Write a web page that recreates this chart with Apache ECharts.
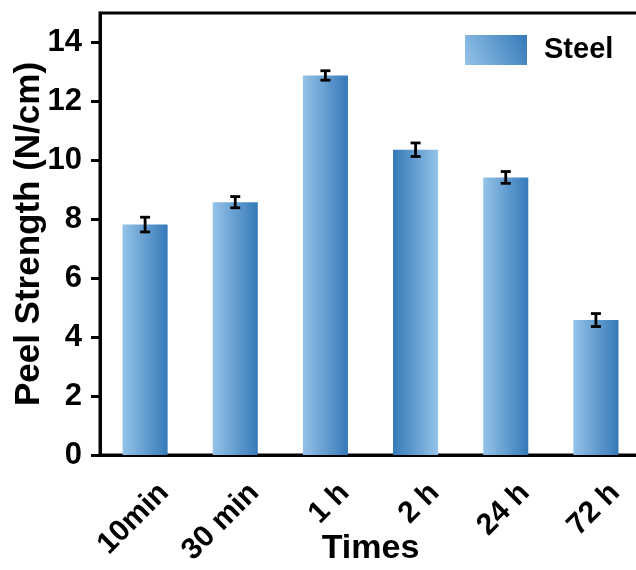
<!DOCTYPE html>
<html>
<head>
<meta charset="utf-8">
<script src="https://cdn.jsdelivr.net/npm/echarts@6/dist/echarts.min.js"></script>
<style>
  html, body { margin: 0; padding: 0; background: #fff; }
  #chart { width: 636px; height: 570px; }
</style>
</head>
<body>
<div id="chart"></div>
<script>
// 数据
const times = ['10min', '30 min', '1 h', '2 h', '24 h', '72 h'];
const peel = [7.82, 8.58, 12.88, 10.36, 9.42, 4.58];
const peelErr = [0.25, 0.19, 0.16, 0.23, 0.2, 0.22];
const yTicks = [0, 2, 4, 6, 8, 10, 12, 14];

const LIGHT = '#95c3e8', DARK = '#3579b9';
const FONT = 'Liberation Sans';

function grad(flip) {
  // 横向渐变：左浅 → 右深（flip 时反向）
  return new echarts.graphic.LinearGradient(flip ? 1 : 0, 0, flip ? 0 : 1, 0, [
    { offset: 0, color: LIGHT }, { offset: 1, color: DARK }]);
}

const chart = echarts.init(document.getElementById('chart'), null, { renderer: 'canvas' });

chart.setOption({
  animation: false,
  grid: {
    left: 100, right: -5, top: 13, bottom: 115, outerBoundsMode: 'none', containLabel: false,
    show: true, borderColor: '#000', borderWidth: 3,
  },
  legend: {
    left: 460, top: 30, itemWidth: 62, itemHeight: 30, icon: 'rect',
    textStyle: { fontFamily: FONT, fontWeight: 'bold', fontSize: 29, color: '#000', padding: [0, 0, 0, 12] },
    data: [{ name: 'Steel', itemStyle: { color: new echarts.graphic.LinearGradient(0, 1, 1, 0, [
      { offset: 0, color: LIGHT }, { offset: 1, color: DARK }]) } }],
  },
  xAxis: {
    type: 'category', data: times,
    name: 'Times', nameLocation: 'middle', nameGap: 77, nameMoveOverlap: false,
    nameTextStyle: { fontFamily: FONT, fontWeight: 'bold', fontSize: 34, color: '#000' },
    axisLine: { lineStyle: { color: '#000', width: 3 } },
    axisTick: { alignWithLabel: true, length: 8, lineStyle: { color: '#000', width: 3 } },
    axisLabel: {
      rotate: 45, margin: 14, verticalAlign: 'top', padding: [12, 0, 0, 0],
      fontFamily: FONT, fontWeight: 'bold', fontSize: 30, color: '#000',
    },
  },
  yAxis: {
    type: 'value', min: 0, max: 15, interval: 2,
    name: 'Peel Strength (N/cm)', nameLocation: 'middle', nameGap: 53, nameMoveOverlap: false,
    nameTextStyle: { fontFamily: FONT, fontWeight: 'bold', fontSize: 35, color: '#000' },
    axisLine: { show: true, lineStyle: { color: '#000', width: 3 } },
    axisTick: { show: true, length: 9, customValues: yTicks, lineStyle: { color: '#000', width: 3 } },
    axisLabel: { customValues: yTicks, margin: 18, fontFamily: FONT, fontWeight: 'bold', fontSize: 31, color: '#000' },
    splitLine: { show: false },
  },
  series: [
    {
      name: 'Steel', type: 'bar', barWidth: '50%', data: peel,
      itemStyle: { color: (p) => grad(p.dataIndex === 3) },
    },
    {
      name: 'err', type: 'custom',
      data: peel.map((v, i) => [i, v - peelErr[i], v + peelErr[i]]),
      renderItem: (params, api) => {
        const lo = api.coord([api.value(0), api.value(1)]);
        const hi = api.coord([api.value(0), api.value(2)]);
        const w = 5;
        const st = { stroke: '#000', lineWidth: 2.8 };
        return {
          type: 'group',
          children: [
            { type: 'line', shape: { x1: lo[0], y1: lo[1], x2: hi[0], y2: hi[1] }, style: st },
            { type: 'line', shape: { x1: lo[0] - w, y1: lo[1], x2: lo[0] + w, y2: lo[1] }, style: st },
            { type: 'line', shape: { x1: hi[0] - w, y1: hi[1], x2: hi[0] + w, y2: hi[1] }, style: st },
          ],
        };
      },
      z: 3,
    },
  ],
});
</script>
</body>
</html>
